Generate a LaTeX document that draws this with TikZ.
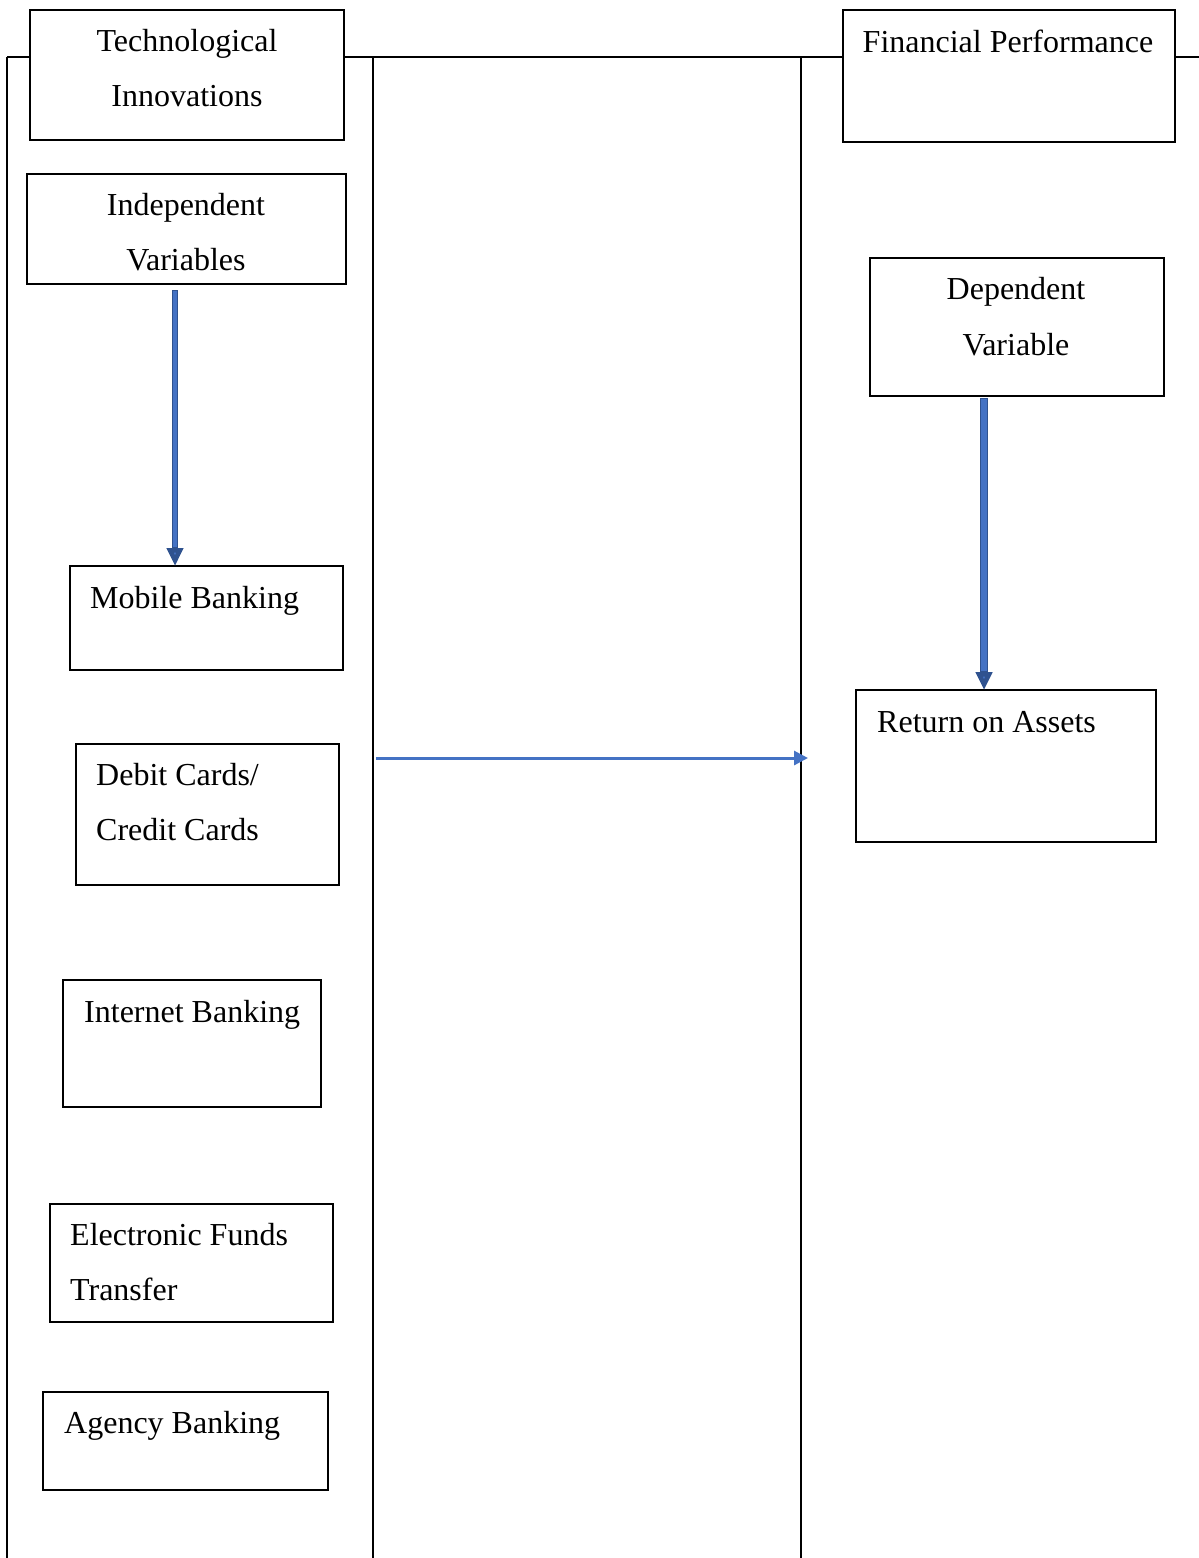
\documentclass[tikz,border=0pt]{standalone}
\usepackage{fontspec}
\setmainfont{Liberation Serif}
\usetikzlibrary{arrows.meta}
\definecolor{arrblue}{HTML}{4472C4}
\definecolor{arredge}{HTML}{2F528F}
\begin{document}
\begin{tikzpicture}[x=1pt,y=-1pt,
  box/.style={draw=black, line width=2pt, fill=white, inner sep=0pt, outer sep=0pt, anchor=north west},
  txtl/.style={anchor=base west, inner sep=0pt, font=\fontsize{32}{38}\selectfont},
  txtc/.style={anchor=base, inner sep=0pt, font=\fontsize{32}{38}\selectfont},
  rule/.style={draw=black, line width=2pt},
  thickarrow/.style={draw=arredge, -{Triangle[width=16pt,length=18pt,fill=arrblue]}},
  thickcore/.style={draw=arrblue, shorten >=19pt},
  thinarrow/.style={draw=arrblue, line width=3pt, -{Triangle[width=14pt,length=14pt]}}]
\useasboundingbox (0,0) rectangle (1199,1558);
% table frame
\coordinate (fl) at (7,57);
\coordinate (fr) at (1199,57);
\coordinate (c1) at (373,57);
\coordinate (c2) at (801,57);
\coordinate (bl) at (7,1558);
\coordinate (b1) at (373,1558);
\coordinate (b2) at (801,1558);
\draw[rule] (fl) -- (fr);
\draw[draw=black, line width=1.5pt] (fl) -- (bl);
\draw[rule] (c1) -- (b1);
\draw[rule] (c2) -- (b2);
% boxes
\node[box, minimum width=314pt, minimum height=130pt] (tech) at (30,10) {};
\node[box, minimum width=332pt, minimum height=132pt] (fin) at (843,10) {};
\node[box, minimum width=319pt, minimum height=110pt] (indep) at (27,174) {};
\node[box, minimum width=294pt, minimum height=138pt] (dep) at (870,258) {};
\node[box, minimum width=273pt, minimum height=104pt] (mob) at (70,566) {};
\node[box, minimum width=263pt, minimum height=141pt] (debit) at (76,744) {};
\node[box, minimum width=258pt, minimum height=127pt] (inet) at (63,980) {};
\node[box, minimum width=283pt, minimum height=118pt] (eft) at (50,1204) {};
\node[box, minimum width=285pt, minimum height=98pt] (agency) at (43,1392) {};
\node[box, minimum width=300pt, minimum height=152pt] (roa) at (856,690) {};
% texts
\node[txtc] (tTech1) at (187,51) {Technological};
\node[txtc] (tTech2) at (187,106) {Innovations};
\node[txtc] (tFin) at (1008,52) {Financial Performance};
\node[txtc] (tInd1) at (186,215) {Independent};
\node[txtc] (tInd2) at (186,270) {Variables};
\node[txtc] (tDep1) at (1016,299) {Dependent};
\node[txtc] (tDep2) at (1016,355) {Variable};
\node[txtl] (tMob) at (90,608) {Mobile Banking};
\node[txtl] (tDeb1) at (96,785) {Debit Cards/};
\node[txtl] (tDeb2) at (96,840) {Credit Cards};
\node[txtl] (tInet) at (84,1022) {Internet Banking};
\node[txtl] (tEft1) at (70,1245) {Electronic Funds};
\node[txtl] (tEft2) at (70,1300) {Transfer};
\node[txtl] (tAg) at (64,1433) {Agency Banking};
\node[txtl] (tRoa) at (877,732) {Return on Assets};
% arrows
\coordinate (ax1) at (175,0);
\coordinate (ax2) at (984,0);
\coordinate (hstart) at (376,758);
\coordinate (hend) at (808,758);
\draw[thickarrow, line width=6pt] ([yshift=-6pt]indep.south -| ax1) -- (mob.north -| ax1);
\draw[thickcore, line width=3.5pt] ([yshift=-7pt]indep.south -| ax1) -- (mob.north -| ax1);
\draw[thickarrow, line width=8pt] ([yshift=-2pt]dep.south -| ax2) -- (roa.north -| ax2);
\draw[thickcore, line width=5.5pt] ([yshift=-3pt]dep.south -| ax2) -- (roa.north -| ax2);
\draw[thinarrow] (hstart) -- (hend);
\end{tikzpicture}
\end{document}
